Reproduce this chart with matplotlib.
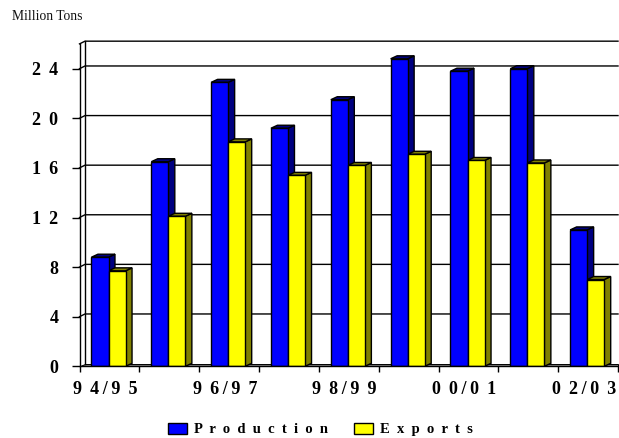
import matplotlib
matplotlib.use("Agg")
import matplotlib.pyplot as plt
from matplotlib.patches import Patch, Polygon
import numpy as np

plt.rcParams["font.family"] = ["Liberation Serif", "DejaVu Serif"]

seasons = ["94/95", "95/96", "96/97", "97/98", "98/99", "99/00", "00/01", "01/02", "02/03"]
production = [8.8, 16.5, 22.9, 19.2, 21.5, 24.8, 23.8, 24.0, 11.0]
exports = [7.7, 12.1, 18.1, 15.4, 16.2, 17.1, 16.6, 16.4, 7.0]
y_ticks = [0, 4, 8, 12, 16, 20, 24]
shown_index = [0, 2, 4, 6, 8]

W, H = 619, 438
LEFT, RIGHT, BOTTOM, TOP = 79.5, 618.0, 366.3, 43.9
YMAX = 26
BAR_W = 0.285
WALL_DX, WALL_DY = 0.092, 0.22   # depth of the back wall, in data units
BAR_DX, BAR_DY = 0.108, 0.24     # depth of each column
LW = 1.0
DIGIT_GAP = " \u2009"
SLASH_GAP = "\u2009"


def spaced_number(text):
    return DIGIT_GAP.join(text)


def spaced_season(text):
    first, second = text.split("/")
    return spaced_number(first) + SLASH_GAP + "/" + SLASH_GAP + spaced_number(second)


fig = plt.figure(figsize=(W / 100, H / 100), dpi=100)
ax = fig.add_axes([LEFT / W, 1 - BOTTOM / H, (RIGHT - LEFT) / W, (BOTTOM - TOP) / H])
ax.set_xlim(0, len(seasons))
ax.set_ylim(0, YMAX)
for side in ("top", "right"):
    ax.spines[side].set_visible(False)
for side in ("left", "bottom"):
    ax.spines[side].set_linewidth(LW)
    ax.spines[side].set_zorder(6)

# back wall, floor and gridlines
ax.add_patch(Polygon([(WALL_DX, WALL_DY), (len(seasons), WALL_DY), (len(seasons), 0), (0, 0)],
                     closed=True, fc="#808080", ec="black", lw=LW * 0.7, clip_on=False, zorder=1))
ax.plot([WALL_DX, WALL_DX], [WALL_DY, YMAX + WALL_DY], color="black", lw=LW, clip_on=False, zorder=2)
ax.plot([0, WALL_DX, len(seasons)], [YMAX, YMAX + WALL_DY, YMAX + WALL_DY],
        color="black", lw=LW, clip_on=False, zorder=2)
for v in y_ticks[1:]:
    ax.plot([0, WALL_DX, len(seasons)], [v, v + WALL_DY, v + WALL_DY],
            color="black", lw=LW, clip_on=False, zorder=2)


def column(x, value, face, shade):
    ax.bar(x, value, BAR_W, align="edge", color=face, edgecolor="black", linewidth=LW, zorder=4)
    right = x + BAR_W
    ax.add_patch(Polygon([(right, 0), (right + BAR_DX, BAR_DY), (right + BAR_DX, value + BAR_DY), (right, value)],
                         closed=True, fc=shade, ec="black", lw=LW, zorder=3.5))
    ax.add_patch(Polygon([(x, value), (x + BAR_DX, value + BAR_DY), (right + BAR_DX, value + BAR_DY), (right, value)],
                         closed=True, fc=shade, ec="black", lw=LW, zorder=3.5))


centres = np.arange(len(seasons)) + 0.485
for c, p, e in zip(centres, production, exports):
    column(c - BAR_W, p, "#0000FF", "#000080")
    column(c, e, "#FFFF00", "#808000")

# axes ticks and labels
ax.set_yticks(y_ticks)
ax.set_yticklabels([spaced_number(str(v)) for v in y_ticks], fontsize=13, fontweight="bold")
ax.tick_params(axis="y", length=6, width=LW, pad=9.3)
ax.set_xticks(np.arange(len(seasons) + 1))
ax.set_xticklabels([])
ax.tick_params(axis="x", length=4, width=LW)
ax.set_xticks(np.array(shown_index) + 0.43, minor=True)
ax.set_xticklabels([spaced_season(seasons[i]) for i in shown_index], minor=True, fontsize=13, fontweight="bold")
ax.tick_params(axis="x", which="minor", length=0, pad=10.5)

fig.text(11.5 / W, 1 - 17 / H, "Million Tons", fontsize=9.8, va="center", ha="left", color="#111111")

handles = [Patch(fc="#0000FF", ec="black", lw=LW), Patch(fc="#FFFF00", ec="black", lw=LW)]
fig.legend(handles, ["  ".join("Production"), "  ".join("Exports")],
           loc="center", bbox_to_anchor=(320.5 / W, 1 - 429.5 / H), ncol=2, frameon=False,
           prop={"size": 10.5, "weight": "bold"}, handlelength=1.3, handleheight=0.85,
           handletextpad=0.5, columnspacing=1.75, borderpad=0)

fig.savefig("out.png", dpi=100)
